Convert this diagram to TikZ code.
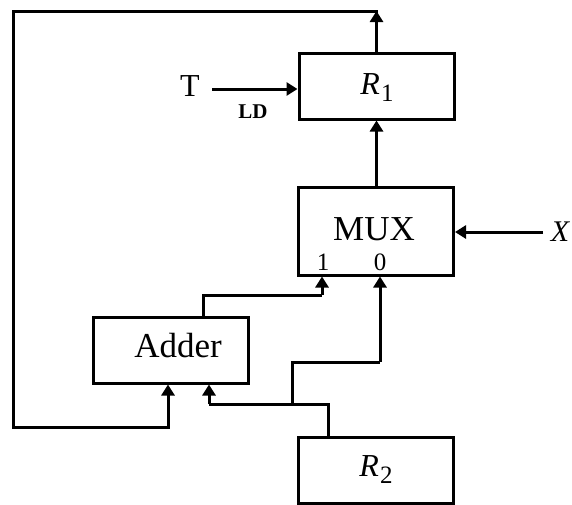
\documentclass[tikz,border=0pt]{standalone}
\usepackage{fontspec}
\setmainfont{Liberation Serif}
\usetikzlibrary{arrows.meta}
\begin{document}
\begin{tikzpicture}[x=1pt,y=-1pt,
  box/.style={draw,line width=3pt,minimum width=155pt,minimum height=66pt,inner sep=0pt,font=\fontsize{34}{38}\selectfont},
  wire/.style={line width=3pt},
  arr/.style={wire,-{Triangle[length=11pt,width=13pt]}},
  lbl/.style={inner sep=0pt,font=\fontsize{35}{38}\selectfont},
  reg/.style={inner sep=0pt,font=\itshape\fontsize{32}{34}\selectfont}]
\useasboundingbox (0,0) rectangle (572,504);
\node[box] (R1) at (376.5,86) {};
\node[reg] (R1t) at (377,88) {R\kern1pt\raisebox{-7pt}{\upshape\fontsize{25}{28}\selectfont 1}};
\node[box,minimum height=88pt] (MUX) at (376,231) {};
\node[lbl] (muxt) at (374,229) {MUX};
\node[lbl,font=\fontsize{25}{28}\selectfont] (in1) at (323,262) {1};
\node[lbl,font=\fontsize{25}{28}\selectfont] (in0) at (380,262) {0};
\node[box] (Adder) at (171,350) {};
\node[lbl] (addt) at (178,346) {Adder};
\node[box] (R2) at (375.5,470) {};
\node[reg] (R2t) at (376,470) {R\kern1pt\raisebox{-7pt}{\upshape\fontsize{25}{28}\selectfont 2}};
\node[lbl,font=\fontsize{32}{34}\selectfont] (T) at (190,86) {T};
\node[lbl,font=\bfseries\fontsize{21}{24}\selectfont] (LD) at (253,112) {LD};
\node[lbl,font=\itshape\fontsize{30}{32}\selectfont] (X) at (560,232) {X};
% coordinates
\coordinate (tc) at (376.5,11);
\coordinate (lc1) at (13,11);
\coordinate (lc2) at (13,427);
\coordinate (fa) at (168,427);
\coordinate (Ts) at (212,89);
\coordinate (Xs) at (543,232);
\coordinate (ao1) at (203,295);
\coordinate (ao2) at (322,295);
\coordinate (r2a) at (328,404);
\coordinate (r2b) at (209,404);
\coordinate (r2c) at (292,404);
\coordinate (r2d) at (292,362);
\coordinate (r2e) at (380,362);
% connectors
\draw[arr] (R1.north) -- (tc);
\draw[wire,line cap=rect] (tc) -- (lc1) -- (lc2) -- (fa);
\draw[arr] (fa) -- (fa |- Adder.south);
\draw[arr] (Ts) -- (Ts -| R1.west);
\draw[arr] (Xs) -- (Xs -| MUX.east);
\draw[arr] (MUX.north -| R1.south) -- (R1.south);
\draw[wire] (Adder.north -| ao1) -- (ao1) -- (ao2);
\draw[arr] (ao2) -- (ao2 |- MUX.south);
\draw[wire] (R2.north -| r2a) -- (r2a) -- (r2b);
\draw[arr] (r2b) -- (r2b |- Adder.south);
\draw[wire] (r2c) -- (r2d) -- (r2e);
\draw[arr] (r2e) -- (r2e |- MUX.south);
\end{tikzpicture}
\end{document}
